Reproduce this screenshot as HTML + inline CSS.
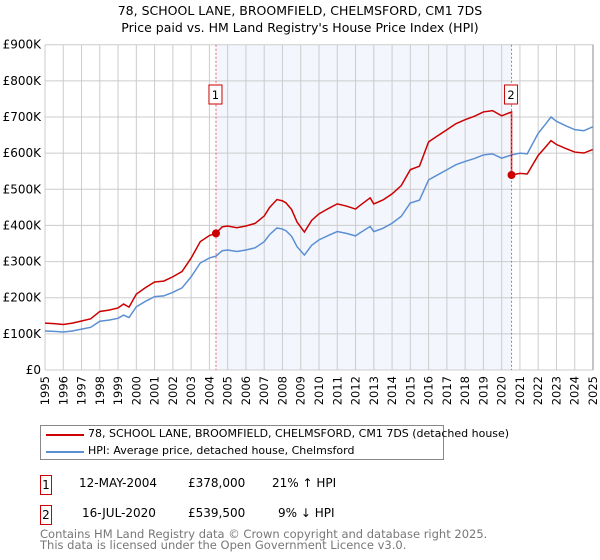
<!DOCTYPE html>
<html><head><meta charset="utf-8"><style>
body{margin:0;width:600px;height:560px;background:#fff;font-family:"Liberation Sans","DejaVu Sans",sans-serif;overflow:hidden;position:relative}
svg text{font-family:"DejaVu Sans","Liberation Sans",sans-serif}
.t{position:absolute;font-family:"DejaVu Sans","Liberation Sans",sans-serif;font-size:12px;color:#000;white-space:nowrap}
</style></head><body>
<svg id="chart" width="600" height="420" style="position:absolute;left:0;top:0">
<text x="300" y="15" text-anchor="middle" font-size="12.5">78, SCHOOL LANE, BROOMFIELD, CHELMSFORD, CM1 7DS</text>
<text x="300" y="32" text-anchor="middle" font-size="12.5">Price paid vs. HM Land Registry's House Price Index (HPI)</text>
<g id="grid"></g><g id="series"></g><g id="axes"></g>
</svg>
<div style="position:absolute;left:40px;top:425px;width:404px;height:35px;border:1px solid #888;box-sizing:border-box">
<div style="position:absolute;left:5px;top:8px;width:38px;height:2px;background:#cc0000"></div>
<div class="t" style="left:47px;top:1px;font-size:11px">78, SCHOOL LANE, BROOMFIELD, CHELMSFORD, CM1 7DS (detached house)</div>
<div style="position:absolute;left:5px;top:25px;width:38px;height:2px;background:#5b8fd4"></div>
<div class="t" style="left:47px;top:18px;font-size:11px">HPI: Average price, detached house, Chelmsford</div>
</div>
<div class="t" style="left:40px;top:475px;width:12px;height:20px;border:1px solid #cc0000;box-sizing:border-box;text-align:center;line-height:18px">1</div>
<div class="t" style="left:79px;top:476px">12-MAY-2004</div>
<div class="t" style="left:188px;top:476px">£378,000</div>
<div class="t" style="left:272px;top:476px">21% ↑ HPI</div>
<div class="t" style="left:40px;top:505px;width:12px;height:20px;border:1px solid #cc0000;box-sizing:border-box;text-align:center;line-height:18px">2</div>
<div class="t" style="left:82px;top:506px">16-JUL-2020</div>
<div class="t" style="left:188px;top:506px">£539,500</div>
<div class="t" style="left:278px;top:506px">9% ↓ HPI</div>
<div class="t" style="left:40px;top:529px;color:#777;font-size:11.5px;line-height:11px">Contains HM Land Registry data © Crown copyright and database right 2025.<br>This data is licensed under the Open Government Licence v3.0.</div>
<script>
const years=[1995,1995.5,1996,1996.5,1997,1997.5,1998,1998.5,1999,1999.3,1999.6,2000,2000.5,2001,2001.5,2002,2002.5,2003,2003.5,2004,2004.36,2004.7,2005,2005.5,2006,2006.5,2007,2007.3,2007.7,2008,2008.2,2008.5,2008.8,2009.2,2009.6,2010,2010.5,2011,2011.5,2012,2012.2,2012.8,2013,2013.5,2014,2014.5,2015,2015.5,2016,2016.5,2017,2017.5,2018,2018.5,2019,2019.5,2020,2020.54,2021,2021.4,2022,2022.4,2022.7,2023,2023.5,2024,2024.5,2025];
const hpi=[108,107,105,108,113,118,135,138,143,152,145,175,190,203,205,215,227,258,296,310,315,330,332,328,332,338,355,375,393,390,385,370,341,318,345,360,372,383,378,371,378,397,383,392,406,425,462,470,526,540,554,568,577,585,595,598,586,595,600,598,655,680,700,688,676,665,662,673];
const saleYears=[2004.36,2020.54];
const salePrices=[378,539.5];
const yTicks=[0,100,200,300,400,500,600,700,800,900];
const yLabels=["£0","£100K","£200K","£300K","£400K","£500K","£600K","£700K","£800K","£900K"];
const xTicks=[1995,1996,1997,1998,1999,2000,2001,2002,2003,2004,2005,2006,2007,2008,2009,2010,2011,2012,2013,2014,2015,2016,2017,2018,2019,2020,2021,2022,2023,2024,2025];

const X0=45,X1=593,Y0=370,Y1=44.7;
const xs=y=>X0+(y-1995)/30*(X1-X0);
const ys=v=>Y0-v/900*(Y0-Y1);
const NS="http://www.w3.org/2000/svg";
function mk(tag,attrs,parent){const e=document.createElementNS(NS,tag);for(const k in attrs)e.setAttribute(k,attrs[k]);parent.appendChild(e);return e;}
const grid=document.getElementById('grid'),series=document.getElementById('series'),axes=document.getElementById('axes');
const shade=mk('rect',{x:xs(saleYears[0]),y:Y1,width:xs(saleYears[1])-xs(saleYears[0]),height:Y0-Y1,fill:'#f3f6fd'},grid);


yTicks.forEach((v,i)=>{
 const l=mk('line',{x1:X0,x2:X1,y1:ys(v),y2:ys(v),stroke:'#ccc','stroke-width':1},grid);
 
 
 const t=mk('text',{x:X0-4,y:ys(v)+4,'text-anchor':'end','font-size':12},axes);
 t.textContent=yLabels[i];
 
 
});
xTicks.forEach(y=>{
 const l=mk('line',{x1:xs(y),x2:xs(y),y1:Y1,y2:Y0,stroke:'#ccc','stroke-width':1},grid);
 
 
 const t=mk('text',{x:0,y:0,'text-anchor':'end','font-size':11.5,transform:`translate(${xs(y)+4},376) rotate(-90)`},axes);
 t.textContent=y;
 
 
});
const rb=mk('line',{x1:X1,x2:X1,y1:Y1,y2:Y0,stroke:'#888','stroke-width':1},axes);


function hpiAt(t){for(let i=0;i<years.length-1;i++){if(t<=years[i+1]){const f=(t-years[i])/(years[i+1]-years[i]);return hpi[i]+f*(hpi[i+1]-hpi[i]);}}return hpi[hpi.length-1];}
const red=[];
years.forEach((y,i)=>{
 if(y<saleYears[1]) red.push([y,hpi[i]*salePrices[0]/hpiAt(saleYears[0])]);
 if(Math.abs(y-saleYears[1])<1e-6){red.push([y,hpi[i]*salePrices[0]/hpiAt(saleYears[0])]);red.push([y,salePrices[1]]);}
 else if(y>saleYears[1]) red.push([y,hpi[i]*salePrices[1]/hpiAt(saleYears[1])]);
});
const bp=mk('polyline',{points:years.map((y,i)=>xs(y)+','+ys(hpi[i])).join(' '),fill:'none',stroke:'#5b8fd4','stroke-width':1.5},series);


const rp=mk('polyline',{points:red.map(p=>xs(p[0])+','+ys(p[1])).join(' '),fill:'none',stroke:'#cc0000','stroke-width':1.5},series);


saleYears.forEach((y,i)=>{
 const l=mk('line',{x1:xs(y),x2:xs(y),y1:Y1,y2:Y0,stroke:'#f06060','stroke-width':1,'stroke-dasharray':'2,2'},series);
 
 
 const c=mk('circle',{cx:xs(y),cy:ys(salePrices[i]),r:4,fill:'#cc0000'},series);
 
 
 const bx=xs(y)-6;
 const r=mk('rect',{x:bx-1,y:85,width:13,height:19,fill:'#fff',stroke:'#cc0000'},series);
 
 
 const t=mk('text',{x:bx+5.5,y:99,'text-anchor':'middle','font-size':11.5},series);
 t.textContent=String(i+1);
 
 
});
</script>
</body></html>
